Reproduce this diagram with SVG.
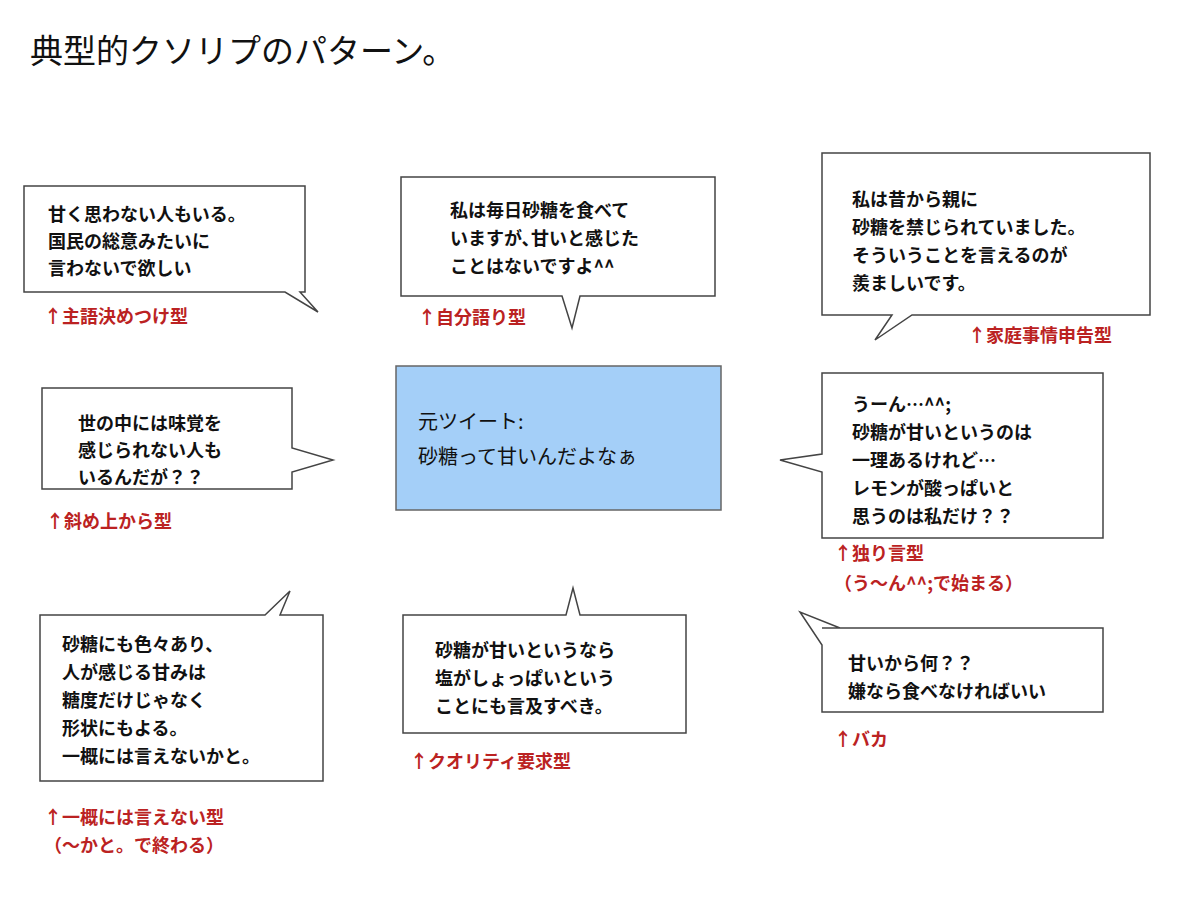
<svg xmlns="http://www.w3.org/2000/svg" width="1179" height="901" viewBox="0 0 1179 901">
<style>
.b{fill:#fff;stroke:#444;stroke-width:1.5}
.t{font-family:"Noto Sans CJK JP",sans-serif;font-size:18px;font-weight:bold;fill:#111}
.l{font-family:"Noto Sans CJK JP",sans-serif;font-size:18px;font-weight:bold;fill:#b22}
.ti{font-family:"Noto Sans CJK JP",sans-serif;font-size:33px;fill:#111}
</style>
<rect width="1179" height="901" fill="#fff"/>
<text class="ti" x="30" y="63">典型的クソリプのパターン。</text>
<g id="connectors"></g>
<g id="n1"><path class="b" d="M24 186H305V292H300L318 312L285 292H24Z"/>
<text class="t" x="48" y="221">甘く思わない人もいる。</text><text class="t" x="48" y="248">国民の総意みたいに</text><text class="t" x="48" y="275">言わないで欲しい</text>
<text class="l" x="44" y="323">↑主語決めつけ型</text></g>
<g id="n2"><path class="b" d="M401 177H715V296H580L572 328L562 296H401Z"/>
<text class="t" x="450" y="217">私は毎日砂糖を食べて</text><text class="t" x="450" y="245">いますが､甘いと感じた</text><text class="t" x="450" y="273">ことはないですよ^^</text>
<text class="l" x="418" y="324">↑自分語り型</text></g>
<g id="n3"><path class="b" d="M822 153H1150V315H912L875 340L892 315H822Z"/>
<text class="t" x="852" y="206">私は昔から親に</text><text class="t" x="852" y="234">砂糖を禁じられていました。</text><text class="t" x="852" y="262">そういうことを言えるのが</text><text class="t" x="852" y="290">羨ましいです。</text>
<text class="l" x="968" y="342">↑家庭事情申告型</text></g>
<g id="n4"><path class="b" d="M42 388H292V448L333 460L292 472V489H42Z"/>
<text class="t" x="78" y="430">世の中には味覚を</text><text class="t" x="78" y="457">感じられない人も</text><text class="t" x="78" y="484">いるんだが？？</text>
<text class="l" x="46" y="528">↑斜め上から型</text></g>
<g id="center"><rect x="396" y="366" width="325" height="144" fill="#a4cff8" stroke="#666" stroke-width="1.5"/>
<text class="t" style="font-size:20px;font-weight:normal" x="418" y="429">元ツイート:</text><text class="t" style="font-size:20px;font-weight:normal" x="418" y="464">砂糖って甘いんだよなぁ</text></g>
<g id="n5"><path class="b" d="M822 373H1103V538H822V472L780 460L822 454Z"/>
<text class="t" x="852" y="411">うーん…^^;</text><text class="t" x="852" y="439">砂糖が甘いというのは</text><text class="t" x="852" y="467">一理あるけれど…</text><text class="t" x="852" y="495">レモンが酸っぱいと</text><text class="t" x="852" y="523">思うのは私だけ？？</text>
<text class="l" x="834" y="560">↑独り言型</text><text class="l" x="834" y="590">（う〜ん^^;で始まる）</text></g>
<g id="n6"><path class="b" d="M40 615H265L290 591L280 615H323V781H40Z"/>
<text class="t" x="62" y="651">砂糖にも色々あり、</text><text class="t" x="62" y="679">人が感じる甘みは</text><text class="t" x="62" y="707">糖度だけじゃなく</text><text class="t" x="62" y="735">形状にもよる。</text><text class="t" x="62" y="763">一概には言えないかと。</text>
<text class="l" x="44" y="824">↑一概には言えない型</text><text class="l" x="44" y="852">（〜かと。で終わる）</text></g>
<g id="n7"><path class="b" d="M403 615H566L573 588L580 615H686V733H403Z"/>
<text class="t" x="435" y="657">砂糖が甘いというなら</text><text class="t" x="435" y="685">塩がしょっぱいという</text><text class="t" x="435" y="713">ことにも言及すべき。</text>
<text class="l" x="410" y="768">↑クオリティ要求型</text></g>
<g id="n8"><path class="b" d="M822 628H1103V712H822V645L800 612L840 628Z"/>
<text class="t" x="848" y="670">甘いから何？？</text><text class="t" x="848" y="698">嫌なら食べなければいい</text>
<text class="l" x="834" y="746">↑バカ</text></g>
</svg>
